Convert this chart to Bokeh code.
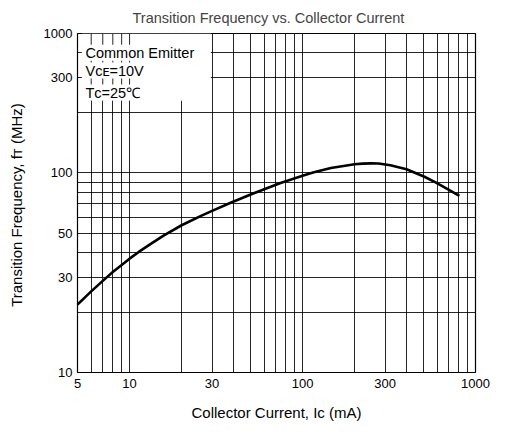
from bokeh.plotting import figure
from bokeh.models import FixedTicker, Title
from bokeh.core.properties import value
from bokeh.embed import file_html
from bokeh.resources import INLINE

# ---- data ----
ic_ma = [5, 6, 7, 8, 10, 11.3, 13, 15.8, 20, 25.7, 30, 38.4, 51.4, 74.6, 100, 115, 145.7,
         200, 222, 248, 275, 322, 399, 507, 595, 698, 807]
ft_mhz = [21.9, 25.5, 28.8, 31.9, 37.2, 40.2, 43.6, 48.7, 54.7, 60.8, 64.6, 70.9, 78.7, 89.0, 96.9, 100.5, 105.8,
          110.5, 111.4, 111.7, 111.5, 109.4, 104.3, 95.7, 89.1, 82.6, 76.8]

x_ticks = [5, 10, 30, 100, 300, 1000]
x_tick_labels = ["5", "10", "30", "100", "300", "1000"]
y_ticks = [10, 30, 50, 100, 300, 500]
y_tick_labels = ["10", "30", "50", "100", "300", "1000"]   # top line is labelled "1000" in the original

x_grid = [6, 7, 8, 9, 10, 20, 30, 40, 50, 60, 70, 80, 90, 100, 200, 300, 400, 500, 600, 700, 800, 900]
y_grid = [20, 30, 40, 50, 60, 70, 80, 90, 100, 200, 300, 400]

note_text = ["Common Emitter", "V\u1d04\u1d07=10V", "T\u1d04=25\u2103"]
note_x = [5.56, 5.56, 5.56]
note_y = [400, 326, 253]

title_text = "Transition Frequency vs. Collector Current"

FONT = "Liberation Sans"

p = figure(width=505, height=432, x_axis_type="log", y_axis_type="log",
           x_range=(5, 1000), y_range=(10, 500),
           output_backend="svg", toolbar_location=None,
           min_border_left=77, min_border_right=30, min_border_top=33, min_border_bottom=60,
           title=title_text)

p.background_fill_color = "white"
p.border_fill_color = "white"
p.outline_line_color = "black"
p.outline_line_width = 1.2

p.title.text_font = FONT
p.title.text_font_size = "14.5px"
p.title.text_font_style = "normal"
p.title.align = "left"
p.title.offset = 55
p.title.standoff = 0
# small blank spacer between the title and the frame
p.add_layout(Title(text=" ", text_font_size="6px", standoff=0), "above")

# grids
p.xgrid.ticker = FixedTicker(ticks=x_grid)
p.ygrid.ticker = FixedTicker(ticks=y_grid)
for g in (p.xgrid, p.ygrid):
    g.grid_line_color = "black"
    g.grid_line_alpha = 0.85
    g.grid_line_width = 1

# axes
p.xaxis.ticker = FixedTicker(ticks=x_ticks)
p.xaxis.major_label_overrides = {t: l for t, l in zip(x_ticks, x_tick_labels)}
p.yaxis.ticker = FixedTicker(ticks=y_ticks)
p.yaxis.major_label_overrides = {t: l for t, l in zip(y_ticks, y_tick_labels)}
for ax in (p.xaxis, p.yaxis):
    ax.axis_line_color = None
    ax.major_tick_out = 0
    ax.major_tick_in = 0
    ax.minor_tick_out = 0
    ax.minor_tick_in = 0
    ax.major_label_text_font = FONT
    ax.major_label_text_font_size = "13px"
    ax.major_label_text_color = "black"
    ax.axis_label_text_font = FONT
    ax.axis_label_text_font_size = "15px"
    ax.axis_label_text_font_style = "normal"
    ax.axis_label_text_color = "black"
p.xaxis.major_label_standoff = 6
p.yaxis.major_label_standoff = 5
p.xaxis.axis_label = "Collector Current, I\u1d04 (mA)"
p.yaxis.axis_label = "Transition Frequency, f\u1d1b  (MHz)"
p.xaxis.axis_label_standoff = 13
p.yaxis.axis_label_standoff = 16

# white box behind the condition notes
p.quad(left=[5.3], right=[29.5], bottom=[230], top=[500], fill_color="white", line_color=None)
box_grid_x = [6, 7, 8, 9, 10]
p.segment(x0=box_grid_x, y0=[230] * 5, x1=box_grid_x, y1=[500] * 5,
          line_color="black", line_alpha=0.85, line_width=1)

# curve
p.line(ic_ma, ft_mhz, line_color="black", line_width=2.6, line_join="round")

# notes
p.text(x=note_x, y=note_y, text=note_text, text_font=value(FONT), text_font_size="14.5px",
       text_baseline="middle", text_align="left", text_color="black",
       background_fill_color="white")

open("out.html", "w").write(file_html(p, INLINE))
